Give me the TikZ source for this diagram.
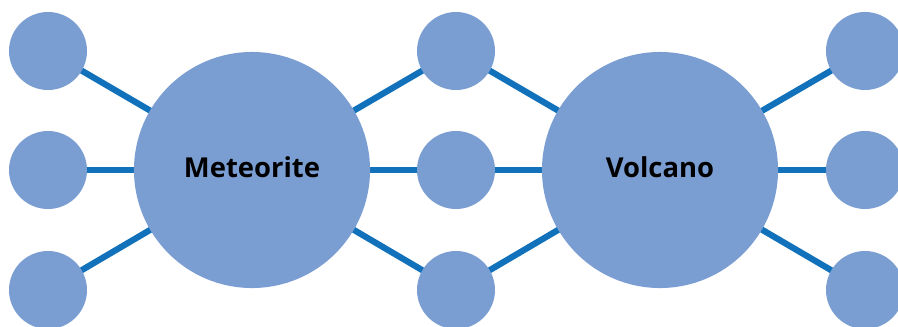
\documentclass[tikz,border=0pt]{standalone}
\usepackage{fontspec}
\setmainfont{Open Sans}
\usepackage{tikz}
\usetikzlibrary{backgrounds}
\definecolor{bubble}{RGB}{123, 158, 210}
\definecolor{link}{RGB}{17, 113, 187}

\begin{document}
\begin{tikzpicture}[x=0.025cm, y=-0.025cm,
    hub/.style={circle, fill=bubble, minimum size=5.9cm, inner sep=0pt, text depth=4pt, font=\bfseries\fontsize{19.5}{23}\selectfont},
    leaf/.style={circle, fill=bubble, minimum size=1.95cm, inner sep=0pt},
    edge/.style={link, line width=0.155cm}]
    \useasboundingbox (0,0) rectangle (898,327);

    % Two hubs
    \node[hub] (met) at (252,170) {Meteorite};
    \node[hub] (vol) at (660,170) {Volcano};

    % Leaves: left, shared middle, right
    \foreach \y/\n in {51/1, 170/2, 290/3} {
        \node[leaf] (l\n) at (48,\y) {};
        \node[leaf] (m\n) at (456,\y) {};
        \node[leaf] (r\n) at (865,\y) {};
    }

    % Links behind the circles
    \begin{scope}[on background layer]
        \foreach \n in {1,2,3} {
            \draw[edge] (l\n.center) -- (met.center);
            \draw[edge] (met.center) -- (m\n.center) -- (vol.center);
            \draw[edge] (vol.center) -- (r\n.center);
        }
    \end{scope}
\end{tikzpicture}
\end{document}
